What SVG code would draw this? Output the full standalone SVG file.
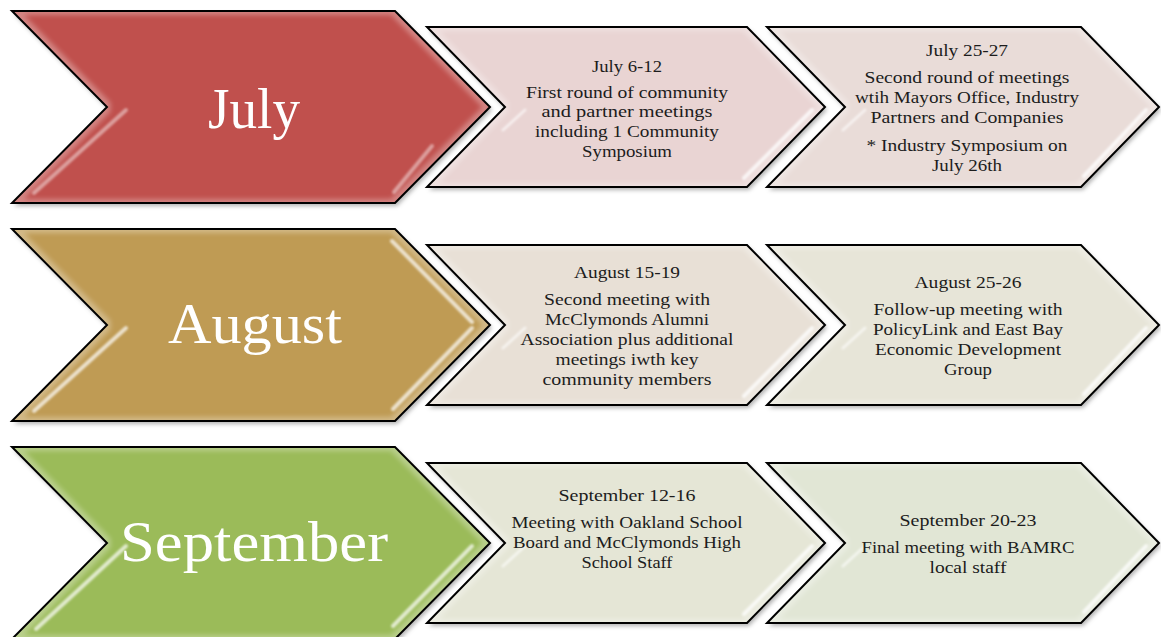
<svg xmlns="http://www.w3.org/2000/svg" width="1161" height="637" viewBox="0 0 1161 637">
<defs>
<style>
.fill{filter:url(#bev)}
.ol{fill:none;stroke:#000;stroke-width:2;stroke-linejoin:miter}
.gl{fill:none;stroke:#fff;stroke-linecap:round;filter:url(#soft)}
.big{font-family:"Liberation Serif","DejaVu Serif",serif;font-size:58px;fill:#fff;text-anchor:middle}
.t{font-family:"Liberation Serif","DejaVu Serif",serif;font-size:17.5px;fill:#1c1c1c;text-anchor:middle}
</style>
<filter id="bev" x="-5%" y="-8%" width="112%" height="120%" color-interpolation-filters="sRGB">
<feGaussianBlur in="SourceAlpha" stdDeviation="2" result="sb"/>
<feOffset in="sb" dx="2" dy="3" result="so"/>
<feFlood flood-color="#000" flood-opacity="0.3"/>
<feComposite in2="so" operator="in" result="shadow"/>
<feMorphology in="SourceAlpha" operator="erode" radius="4" result="er"/>
<feGaussianBlur in="er" stdDeviation="2.5" result="erb"/>
<feComposite in="SourceAlpha" in2="erb" operator="out" result="rim"/>
<feFlood flood-color="#fff" flood-opacity="0.3"/>
<feComposite in2="rim" operator="in" result="rimw"/>
<feMerge><feMergeNode in="shadow"/><feMergeNode in="SourceGraphic"/><feMergeNode in="rimw"/></feMerge>
</filter>
<filter id="soft" x="-20%" y="-20%" width="140%" height="140%"><feGaussianBlur stdDeviation="1"/></filter>
</defs>
<rect width="1161" height="637" fill="#fff"/>

<g id="connectors"></g>

<!-- July row -->
<g id="july">
<path class="fill" fill="#C0504D" d="M12,11 H395 L490,107 L395,203 H12 L107,107 Z"/>
<path class="gl" stroke-opacity="0.45" stroke-width="4" d="M126,110 L34,193"/>
<path class="gl" stroke-opacity="0.45" stroke-width="4" d="M432,146 L394,192"/>
<path class="ol" d="M12,11 H395 L490,107 L395,203 H12 L107,107 Z"/>
<text class="big" x="254" y="128" textLength="92" lengthAdjust="spacingAndGlyphs">July</text>
</g>
<g id="july-6-12">
<path class="fill" fill="#E9D4D3" d="M427,27 H747 L825,107 L747,187 H427 L505,107 Z"/>
<path class="gl" stroke-opacity="0.75" stroke-width="4" d="M812,110 L744,178"/>
<path class="gl" stroke-opacity="0.6" stroke-width="3" d="M525,110 L503,130"/>
<path class="ol" d="M427,27 H747 L825,107 L747,187 H427 L505,107 Z"/>
<text class="t" x="627" y="72" textLength="70" lengthAdjust="spacingAndGlyphs">July 6-12</text>
<text class="t" x="627" y="98" textLength="202" lengthAdjust="spacingAndGlyphs">First round of community</text>
<text class="t" x="627" y="117" textLength="171" lengthAdjust="spacingAndGlyphs">and partner meetings</text>
<text class="t" x="627" y="137" textLength="184" lengthAdjust="spacingAndGlyphs">including 1 Community</text>
<text class="t" x="627" y="157" textLength="90" lengthAdjust="spacingAndGlyphs">Symposium</text>
</g>
<g id="july-25-27">
<path class="fill" fill="#E9DCD8" d="M767,27 H1081 L1159,107 L1081,187 H767 L845,107 Z"/>
<path class="gl" stroke-opacity="0.75" stroke-width="4" d="M1146,110 L1084,176"/>
<path class="gl" stroke-opacity="0.6" stroke-width="3" d="M865,110 L843,130"/>
<path class="ol" d="M767,27 H1081 L1159,107 L1081,187 H767 L845,107 Z"/>
<text class="t" x="967" y="56" textLength="82" lengthAdjust="spacingAndGlyphs">July 25-27</text>
<text class="t" x="967" y="83" textLength="205" lengthAdjust="spacingAndGlyphs">Second round of meetings</text>
<text class="t" x="967" y="103" textLength="224" lengthAdjust="spacingAndGlyphs">wtih Mayors Office, Industry</text>
<text class="t" x="967" y="123" textLength="193" lengthAdjust="spacingAndGlyphs">Partners and Companies</text>
<text class="t" x="967" y="151" textLength="201" lengthAdjust="spacingAndGlyphs">* Industry Symposium on</text>
<text class="t" x="967" y="171" textLength="70" lengthAdjust="spacingAndGlyphs">July 26th</text>
</g>

<!-- August row -->
<g id="august">
<path class="fill" fill="#BF9B54" d="M12,229 H395 L490,325 L395,421 H12 L107,325 Z"/>
<path class="gl" stroke="#fbe9a8" stroke-opacity="0.7" stroke-width="4" d="M126,328 L34,411"/>
<path class="gl" stroke="#fbe9a8" stroke-opacity="0.7" stroke-width="4" d="M392,241 L472,322"/>
<path class="gl" stroke="#fbe9a8" stroke-opacity="0.7" stroke-width="4" d="M472,328 L393,409"/>
<path class="ol" d="M12,229 H395 L490,325 L395,421 H12 L107,325 Z"/>
<text class="big" x="255" y="343" textLength="174" lengthAdjust="spacingAndGlyphs">August</text>
</g>
<g id="august-15-19">
<path class="fill" fill="#E8E0D6" d="M427,245 H747 L825,325 L747,405 H427 L505,325 Z"/>
<path class="gl" stroke-opacity="0.75" stroke-width="4" d="M812,328 L744,396"/>
<path class="gl" stroke-opacity="0.6" stroke-width="3" d="M525,328 L503,348"/>
<path class="ol" d="M427,245 H747 L825,325 L747,405 H427 L505,325 Z"/>
<text class="t" x="627" y="278" textLength="106" lengthAdjust="spacingAndGlyphs">August 15-19</text>
<text class="t" x="627" y="305" textLength="166" lengthAdjust="spacingAndGlyphs">Second meeting with</text>
<text class="t" x="627" y="325" textLength="164" lengthAdjust="spacingAndGlyphs">McClymonds Alumni</text>
<text class="t" x="627" y="345" textLength="213" lengthAdjust="spacingAndGlyphs">Association plus additional</text>
<text class="t" x="627" y="365" textLength="143" lengthAdjust="spacingAndGlyphs">meetings iwth key</text>
<text class="t" x="627" y="385" textLength="169" lengthAdjust="spacingAndGlyphs">community members</text>
</g>
<g id="august-25-26">
<path class="fill" fill="#E7E5D8" d="M767,245 H1081 L1159,325 L1081,405 H767 L845,325 Z"/>
<path class="gl" stroke-opacity="0.75" stroke-width="4" d="M1146,328 L1084,394"/>
<path class="gl" stroke-opacity="0.6" stroke-width="3" d="M865,328 L843,348"/>
<path class="ol" d="M767,245 H1081 L1159,325 L1081,405 H767 L845,325 Z"/>
<text class="t" x="968" y="288" textLength="107" lengthAdjust="spacingAndGlyphs">August 25-26</text>
<text class="t" x="968" y="315" textLength="189" lengthAdjust="spacingAndGlyphs">Follow-up meeting with</text>
<text class="t" x="968" y="335" textLength="190" lengthAdjust="spacingAndGlyphs">PolicyLink and East Bay</text>
<text class="t" x="968" y="355" textLength="186" lengthAdjust="spacingAndGlyphs">Economic Development</text>
<text class="t" x="968" y="375" textLength="48" lengthAdjust="spacingAndGlyphs">Group</text>
</g>

<!-- September row -->
<g id="september">
<path class="fill" fill="#9BBB59" d="M12,447 H395 L490,543 L395,639 H12 L107,543 Z"/>
<path class="gl" stroke="#eaffc0" stroke-opacity="0.7" stroke-width="4" d="M126,546 L36,629"/>
<path class="gl" stroke="#eaffc0" stroke-opacity="0.7" stroke-width="4" d="M472,546 L393,626"/>
<path class="ol" d="M12,447 H395 L490,543 L395,639 H12 L107,543 Z"/>
<text class="big" x="254" y="561" textLength="268" lengthAdjust="spacingAndGlyphs">September</text>
</g>
<g id="september-12-16">
<path class="fill" fill="#E5E6D6" d="M427,463 H747 L825,543 L747,623 H427 L505,543 Z"/>
<path class="gl" stroke-opacity="0.75" stroke-width="4" d="M812,546 L744,614"/>
<path class="gl" stroke-opacity="0.6" stroke-width="3" d="M525,546 L503,566"/>
<path class="ol" d="M427,463 H747 L825,543 L747,623 H427 L505,543 Z"/>
<text class="t" x="627" y="501" textLength="137" lengthAdjust="spacingAndGlyphs">September 12-16</text>
<text class="t" x="627" y="528" textLength="231" lengthAdjust="spacingAndGlyphs">Meeting with Oakland School</text>
<text class="t" x="627" y="548" textLength="228" lengthAdjust="spacingAndGlyphs">Board and McClymonds High</text>
<text class="t" x="627" y="568" textLength="91" lengthAdjust="spacingAndGlyphs">School Staff</text>
</g>
<g id="september-20-23">
<path class="fill" fill="#E1E6D5" d="M767,463 H1081 L1159,543 L1081,623 H767 L845,543 Z"/>
<path class="gl" stroke-opacity="0.75" stroke-width="4" d="M1146,546 L1084,612"/>
<path class="gl" stroke-opacity="0.6" stroke-width="3" d="M865,546 L843,566"/>
<path class="ol" d="M767,463 H1081 L1159,543 L1081,623 H767 L845,543 Z"/>
<text class="t" x="968" y="526" textLength="137" lengthAdjust="spacingAndGlyphs">September 20-23</text>
<text class="t" x="968" y="553" textLength="213" lengthAdjust="spacingAndGlyphs">Final meeting with BAMRC</text>
<text class="t" x="968" y="573" textLength="77" lengthAdjust="spacingAndGlyphs">local staff</text>
</g>
</svg>
